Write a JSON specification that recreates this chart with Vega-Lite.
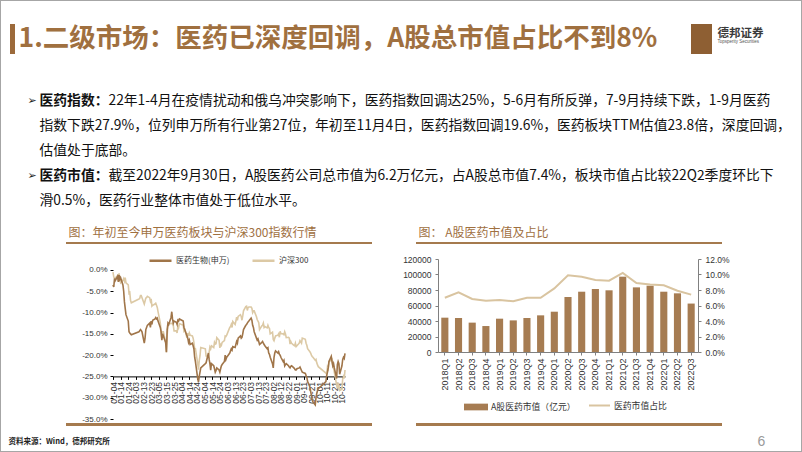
{
"$schema": "https://vega.github.io/schema/vega-lite/v6.json",
"background": "white",
"padding": 0,
"autosize": {"type": "pad"},
"config": {
  "view": {"stroke": null},
  "font": "Noto Sans CJK SC",
  "locale": {"number": {"decimal": ".", "thousands": ",", "grouping": [3], "currency": ["$", ""], "minus": "-"}},
  "axis": {"labelFont": "Liberation Sans", "domainWidth": 1, "tickWidth": 1},
  "legend": {"labelFont": "Noto Sans CJK SC"},
  "title": {"font": "Noto Sans CJK SC"}
},
"datasets": {
  "lines": [
    {"line": 1, "kind": "bullet", "t": "➢"},
    {"line": 4, "kind": "bullet", "t": "➢"},
    {"line": 1, "kind": "label", "t": "医药指数："},
    {"line": 4, "kind": "label", "t": "医药市值："},
    {"line": 1, "kind": "body", "t": "22年1-4月在疫情扰动和俄乌冲突影响下，医药指数回调达25%，5-6月有所反弹，7-9月持续下跌，1-9月医药"},
    {"line": 2, "kind": "cont", "t": "指数下跌27.9%，位列申万所有行业第27位，年初至11月4日，医药指数回调19.6%，医药板块TTM估值23.8倍，深度回调，"},
    {"line": 3, "kind": "cont", "t": "估值处于底部。"},
    {"line": 4, "kind": "body", "t": "截至2022年9月30日，A股医药公司总市值为6.2万亿元，占A股总市值7.4%，板块市值占比较22Q2季度环比下"},
    {"line": 5, "kind": "cont", "t": "滑0.5%，医药行业整体市值处于低位水平。"}
  ],
  "med": [
    {"d":"2022-01-04","v":-0.035},{"d":"2022-01-05","v":-0.040},{"d":"2022-01-06","v":-0.020},{"d":"2022-01-07","v":-0.025},{"d":"2022-01-10","v":-0.015},{"d":"2022-01-11","v":-0.028},{"d":"2022-01-12","v":-0.012},{"d":"2022-01-13","v":-0.022},{"d":"2022-01-14","v":-0.018},{"d":"2022-01-17","v":-0.035},{"d":"2022-01-18","v":-0.050},{"d":"2022-01-19","v":-0.075},{"d":"2022-01-20","v":-0.090},{"d":"2022-01-21","v":-0.105},{"d":"2022-01-24","v":-0.120},{"d":"2022-01-25","v":-0.145},{"d":"2022-01-26","v":-0.148},{"d":"2022-01-27","v":-0.150},{"d":"2022-01-28","v":-0.152},
    {"d":"2022-02-07","v":-0.145},{"d":"2022-02-08","v":-0.143},{"d":"2022-02-09","v":-0.140},{"d":"2022-02-10","v":-0.142},{"d":"2022-02-11","v":-0.145},{"d":"2022-02-14","v":-0.172},{"d":"2022-02-15","v":-0.160},{"d":"2022-02-16","v":-0.140},{"d":"2022-02-17","v":-0.135},{"d":"2022-02-18","v":-0.130},{"d":"2022-02-21","v":-0.125},{"d":"2022-02-22","v":-0.135},{"d":"2022-02-23","v":-0.120},{"d":"2022-02-24","v":-0.128},{"d":"2022-02-25","v":-0.118},{"d":"2022-02-28","v":-0.115},
    {"d":"2022-03-01","v":-0.112},{"d":"2022-03-02","v":-0.115},{"d":"2022-03-03","v":-0.113},{"d":"2022-03-04","v":-0.120},{"d":"2022-03-07","v":-0.135},{"d":"2022-03-08","v":-0.145},{"d":"2022-03-09","v":-0.165},{"d":"2022-03-10","v":-0.150},{"d":"2022-03-11","v":-0.155},{"d":"2022-03-14","v":-0.170},{"d":"2022-03-15","v":-0.193},{"d":"2022-03-16","v":-0.140},{"d":"2022-03-17","v":-0.125},{"d":"2022-03-18","v":-0.128},{"d":"2022-03-21","v":-0.112},{"d":"2022-03-22","v":-0.098},{"d":"2022-03-23","v":-0.115},{"d":"2022-03-24","v":-0.125},{"d":"2022-03-25","v":-0.120},{"d":"2022-03-28","v":-0.123},{"d":"2022-03-29","v":-0.128},{"d":"2022-03-30","v":-0.118},{"d":"2022-03-31","v":-0.120},
    {"d":"2022-04-01","v":-0.115},{"d":"2022-04-06","v":-0.120},{"d":"2022-04-07","v":-0.135},{"d":"2022-04-08","v":-0.140},{"d":"2022-04-11","v":-0.155},{"d":"2022-04-12","v":-0.160},{"d":"2022-04-13","v":-0.170},{"d":"2022-04-14","v":-0.165},{"d":"2022-04-15","v":-0.175},{"d":"2022-04-18","v":-0.172},{"d":"2022-04-19","v":-0.178},{"d":"2022-04-20","v":-0.185},{"d":"2022-04-21","v":-0.205},{"d":"2022-04-22","v":-0.215},{"d":"2022-04-25","v":-0.255},{"d":"2022-04-26","v":-0.263},{"d":"2022-04-27","v":-0.250},{"d":"2022-04-28","v":-0.240},{"d":"2022-04-29","v":-0.230},
    {"d":"2022-05-05","v":-0.220},{"d":"2022-05-06","v":-0.218},{"d":"2022-05-09","v":-0.195},{"d":"2022-05-10","v":-0.210},{"d":"2022-05-11","v":-0.220},{"d":"2022-05-12","v":-0.235},{"d":"2022-05-13","v":-0.220},{"d":"2022-05-16","v":-0.225},{"d":"2022-05-17","v":-0.232},{"d":"2022-05-18","v":-0.240},{"d":"2022-05-19","v":-0.236},{"d":"2022-05-20","v":-0.230},{"d":"2022-05-23","v":-0.235},{"d":"2022-05-24","v":-0.240},{"d":"2022-05-25","v":-0.232},{"d":"2022-05-26","v":-0.225},{"d":"2022-05-27","v":-0.222},{"d":"2022-05-30","v":-0.215},{"d":"2022-05-31","v":-0.200},
    {"d":"2022-06-01","v":-0.210},{"d":"2022-06-02","v":-0.205},{"d":"2022-06-06","v":-0.195},{"d":"2022-06-07","v":-0.190},{"d":"2022-06-08","v":-0.185},{"d":"2022-06-09","v":-0.188},{"d":"2022-06-10","v":-0.180},{"d":"2022-06-13","v":-0.182},{"d":"2022-06-14","v":-0.175},{"d":"2022-06-15","v":-0.168},{"d":"2022-06-16","v":-0.172},{"d":"2022-06-17","v":-0.160},{"d":"2022-06-20","v":-0.155},{"d":"2022-06-21","v":-0.160},{"d":"2022-06-22","v":-0.158},{"d":"2022-06-23","v":-0.150},{"d":"2022-06-24","v":-0.140},{"d":"2022-06-27","v":-0.130},{"d":"2022-06-28","v":-0.128},{"d":"2022-06-29","v":-0.125},{"d":"2022-06-30","v":-0.122},
    {"d":"2022-07-01","v":-0.120},{"d":"2022-07-04","v":-0.113},{"d":"2022-07-05","v":-0.118},{"d":"2022-07-06","v":-0.130},{"d":"2022-07-07","v":-0.135},{"d":"2022-07-08","v":-0.145},{"d":"2022-07-11","v":-0.160},{"d":"2022-07-12","v":-0.165},{"d":"2022-07-13","v":-0.162},{"d":"2022-07-14","v":-0.168},{"d":"2022-07-15","v":-0.175},{"d":"2022-07-18","v":-0.170},{"d":"2022-07-19","v":-0.168},{"d":"2022-07-20","v":-0.172},{"d":"2022-07-21","v":-0.175},{"d":"2022-07-22","v":-0.178},{"d":"2022-07-25","v":-0.185},{"d":"2022-07-26","v":-0.183},{"d":"2022-07-27","v":-0.195},{"d":"2022-07-28","v":-0.198},{"d":"2022-07-29","v":-0.205},
    {"d":"2022-08-01","v":-0.220},{"d":"2022-08-02","v":-0.230},{"d":"2022-08-03","v":-0.205},{"d":"2022-08-04","v":-0.195},{"d":"2022-08-05","v":-0.190},{"d":"2022-08-08","v":-0.195},{"d":"2022-08-09","v":-0.192},{"d":"2022-08-10","v":-0.198},{"d":"2022-08-11","v":-0.200},{"d":"2022-08-12","v":-0.205},{"d":"2022-08-15","v":-0.215},{"d":"2022-08-16","v":-0.212},{"d":"2022-08-17","v":-0.225},{"d":"2022-08-18","v":-0.222},{"d":"2022-08-19","v":-0.220},{"d":"2022-08-22","v":-0.225},{"d":"2022-08-23","v":-0.228},{"d":"2022-08-24","v":-0.230},{"d":"2022-08-25","v":-0.226},{"d":"2022-08-26","v":-0.225},{"d":"2022-08-29","v":-0.230},{"d":"2022-08-30","v":-0.232},{"d":"2022-08-31","v":-0.235},
    {"d":"2022-09-01","v":-0.235},{"d":"2022-09-02","v":-0.232},{"d":"2022-09-05","v":-0.230},{"d":"2022-09-06","v":-0.228},{"d":"2022-09-07","v":-0.232},{"d":"2022-09-08","v":-0.236},{"d":"2022-09-09","v":-0.240},{"d":"2022-09-13","v":-0.243},{"d":"2022-09-14","v":-0.248},{"d":"2022-09-15","v":-0.252},{"d":"2022-09-16","v":-0.262},{"d":"2022-09-19","v":-0.275},{"d":"2022-09-20","v":-0.285},{"d":"2022-09-21","v":-0.295},{"d":"2022-09-22","v":-0.305},{"d":"2022-09-23","v":-0.310},{"d":"2022-09-26","v":-0.317},{"d":"2022-09-27","v":-0.300},{"d":"2022-09-28","v":-0.290},{"d":"2022-09-29","v":-0.283},{"d":"2022-09-30","v":-0.279},
    {"d":"2022-10-10","v":-0.262},{"d":"2022-10-11","v":-0.248},{"d":"2022-10-12","v":-0.240},{"d":"2022-10-13","v":-0.230},{"d":"2022-10-14","v":-0.215},{"d":"2022-10-17","v":-0.203},{"d":"2022-10-18","v":-0.215},{"d":"2022-10-19","v":-0.225},{"d":"2022-10-20","v":-0.220},{"d":"2022-10-21","v":-0.230},{"d":"2022-10-24","v":-0.255},{"d":"2022-10-25","v":-0.222},{"d":"2022-10-26","v":-0.215},{"d":"2022-10-27","v":-0.220},{"d":"2022-10-28","v":-0.245},{"d":"2022-10-31","v":-0.225},
    {"d":"2022-11-01","v":-0.210},{"d":"2022-11-02","v":-0.205},{"d":"2022-11-03","v":-0.208},{"d":"2022-11-04","v":-0.196}
  ],
  "hs": [
    {"d":"2022-01-04","v":-0.005},{"d":"2022-01-05","v":-0.016},{"d":"2022-01-06","v":-0.020},{"d":"2022-01-07","v":-0.019},{"d":"2022-01-10","v":-0.013},{"d":"2022-01-11","v":-0.025},{"d":"2022-01-12","v":-0.008},{"d":"2022-01-13","v":-0.022},{"d":"2022-01-14","v":-0.030},{"d":"2022-01-17","v":-0.024},{"d":"2022-01-18","v":-0.020},{"d":"2022-01-19","v":-0.026},{"d":"2022-01-20","v":-0.018},{"d":"2022-01-21","v":-0.030},{"d":"2022-01-24","v":-0.035},{"d":"2022-01-25","v":-0.055},{"d":"2022-01-26","v":-0.053},{"d":"2022-01-27","v":-0.072},{"d":"2022-01-28","v":-0.077},
    {"d":"2022-02-07","v":-0.068},{"d":"2022-02-08","v":-0.067},{"d":"2022-02-09","v":-0.060},{"d":"2022-02-10","v":-0.060},{"d":"2022-02-11","v":-0.065},{"d":"2022-02-14","v":-0.080},{"d":"2022-02-15","v":-0.073},{"d":"2022-02-16","v":-0.066},{"d":"2022-02-17","v":-0.065},{"d":"2022-02-18","v":-0.062},{"d":"2022-02-21","v":-0.065},{"d":"2022-02-22","v":-0.073},{"d":"2022-02-23","v":-0.068},{"d":"2022-02-24","v":-0.085},{"d":"2022-02-25","v":-0.083},{"d":"2022-02-28","v":-0.080},
    {"d":"2022-03-01","v":-0.078},{"d":"2022-03-02","v":-0.083},{"d":"2022-03-03","v":-0.088},{"d":"2022-03-04","v":-0.098},{"d":"2022-03-07","v":-0.125},{"d":"2022-03-08","v":-0.145},{"d":"2022-03-09","v":-0.160},{"d":"2022-03-10","v":-0.145},{"d":"2022-03-11","v":-0.145},{"d":"2022-03-14","v":-0.170},{"d":"2022-03-15","v":-0.193},{"d":"2022-03-16","v":-0.152},{"d":"2022-03-17","v":-0.130},{"d":"2022-03-18","v":-0.125},{"d":"2022-03-21","v":-0.126},{"d":"2022-03-22","v":-0.125},{"d":"2022-03-23","v":-0.125},{"d":"2022-03-24","v":-0.130},{"d":"2022-03-25","v":-0.143},{"d":"2022-03-28","v":-0.143},{"d":"2022-03-29","v":-0.148},{"d":"2022-03-30","v":-0.130},{"d":"2022-03-31","v":-0.135},
    {"d":"2022-04-01","v":-0.126},{"d":"2022-04-06","v":-0.130},{"d":"2022-04-07","v":-0.143},{"d":"2022-04-08","v":-0.140},{"d":"2022-04-11","v":-0.160},{"d":"2022-04-12","v":-0.148},{"d":"2022-04-13","v":-0.155},{"d":"2022-04-14","v":-0.148},{"d":"2022-04-15","v":-0.153},{"d":"2022-04-18","v":-0.155},{"d":"2022-04-19","v":-0.160},{"d":"2022-04-20","v":-0.170},{"d":"2022-04-21","v":-0.185},{"d":"2022-04-22","v":-0.185},{"d":"2022-04-25","v":-0.220},{"d":"2022-04-26","v":-0.234},{"d":"2022-04-27","v":-0.213},{"d":"2022-04-28","v":-0.202},{"d":"2022-04-29","v":-0.182},
    {"d":"2022-05-05","v":-0.185},{"d":"2022-05-06","v":-0.202},{"d":"2022-05-09","v":-0.202},{"d":"2022-05-10","v":-0.193},{"d":"2022-05-11","v":-0.181},{"d":"2022-05-12","v":-0.185},{"d":"2022-05-13","v":-0.178},{"d":"2022-05-16","v":-0.182},{"d":"2022-05-17","v":-0.170},{"d":"2022-05-18","v":-0.174},{"d":"2022-05-19","v":-0.173},{"d":"2022-05-20","v":-0.159},{"d":"2022-05-23","v":-0.165},{"d":"2022-05-24","v":-0.183},{"d":"2022-05-25","v":-0.175},{"d":"2022-05-26","v":-0.177},{"d":"2022-05-27","v":-0.170},{"d":"2022-05-30","v":-0.166},{"d":"2022-05-31","v":-0.155},
    {"d":"2022-06-01","v":-0.156},{"d":"2022-06-02","v":-0.153},{"d":"2022-06-06","v":-0.135},{"d":"2022-06-07","v":-0.133},{"d":"2022-06-08","v":-0.128},{"d":"2022-06-09","v":-0.135},{"d":"2022-06-10","v":-0.121},{"d":"2022-06-13","v":-0.128},{"d":"2022-06-14","v":-0.120},{"d":"2022-06-15","v":-0.111},{"d":"2022-06-16","v":-0.118},{"d":"2022-06-17","v":-0.109},{"d":"2022-06-20","v":-0.105},{"d":"2022-06-21","v":-0.109},{"d":"2022-06-22","v":-0.118},{"d":"2022-06-23","v":-0.108},{"d":"2022-06-24","v":-0.096},{"d":"2022-06-27","v":-0.086},{"d":"2022-06-28","v":-0.085},{"d":"2022-06-29","v":-0.095},{"d":"2022-06-30","v":-0.088},
    {"d":"2022-07-01","v":-0.087},{"d":"2022-07-04","v":-0.087},{"d":"2022-07-05","v":-0.090},{"d":"2022-07-06","v":-0.100},{"d":"2022-07-07","v":-0.096},{"d":"2022-07-08","v":-0.096},{"d":"2022-07-11","v":-0.110},{"d":"2022-07-12","v":-0.117},{"d":"2022-07-13","v":-0.120},{"d":"2022-07-14","v":-0.124},{"d":"2022-07-15","v":-0.140},{"d":"2022-07-18","v":-0.131},{"d":"2022-07-19","v":-0.130},{"d":"2022-07-20","v":-0.125},{"d":"2022-07-21","v":-0.135},{"d":"2022-07-22","v":-0.133},{"d":"2022-07-25","v":-0.136},{"d":"2022-07-26","v":-0.130},{"d":"2022-07-27","v":-0.135},{"d":"2022-07-28","v":-0.137},{"d":"2022-07-29","v":-0.150},
    {"d":"2022-08-01","v":-0.146},{"d":"2022-08-02","v":-0.163},{"d":"2022-08-03","v":-0.166},{"d":"2022-08-04","v":-0.160},{"d":"2022-08-05","v":-0.155},{"d":"2022-08-08","v":-0.153},{"d":"2022-08-09","v":-0.150},{"d":"2022-08-10","v":-0.158},{"d":"2022-08-11","v":-0.144},{"d":"2022-08-12","v":-0.149},{"d":"2022-08-15","v":-0.150},{"d":"2022-08-16","v":-0.152},{"d":"2022-08-17","v":-0.145},{"d":"2022-08-18","v":-0.150},{"d":"2022-08-19","v":-0.159},{"d":"2022-08-22","v":-0.158},{"d":"2022-08-23","v":-0.160},{"d":"2022-08-24","v":-0.174},{"d":"2022-08-25","v":-0.168},{"d":"2022-08-26","v":-0.172},{"d":"2022-08-29","v":-0.177},{"d":"2022-08-30","v":-0.178},{"d":"2022-08-31","v":-0.172},
    {"d":"2022-09-01","v":-0.180},{"d":"2022-09-02","v":-0.178},{"d":"2022-09-05","v":-0.172},{"d":"2022-09-06","v":-0.166},{"d":"2022-09-07","v":-0.169},{"d":"2022-09-08","v":-0.172},{"d":"2022-09-09","v":-0.160},{"d":"2022-09-13","v":-0.163},{"d":"2022-09-14","v":-0.172},{"d":"2022-09-15","v":-0.177},{"d":"2022-09-16","v":-0.185},{"d":"2022-09-19","v":-0.192},{"d":"2022-09-20","v":-0.195},{"d":"2022-09-21","v":-0.200},{"d":"2022-09-22","v":-0.203},{"d":"2022-09-23","v":-0.205},{"d":"2022-09-26","v":-0.212},{"d":"2022-09-27","v":-0.210},{"d":"2022-09-28","v":-0.218},{"d":"2022-09-29","v":-0.223},{"d":"2022-09-30","v":-0.227},
    {"d":"2022-10-10","v":-0.242},{"d":"2022-10-11","v":-0.245},{"d":"2022-10-12","v":-0.228},{"d":"2022-10-13","v":-0.232},{"d":"2022-10-14","v":-0.215},{"d":"2022-10-17","v":-0.212},{"d":"2022-10-18","v":-0.210},{"d":"2022-10-19","v":-0.225},{"d":"2022-10-20","v":-0.230},{"d":"2022-10-21","v":-0.240},{"d":"2022-10-24","v":-0.270},{"d":"2022-10-25","v":-0.278},{"d":"2022-10-26","v":-0.265},{"d":"2022-10-27","v":-0.272},{"d":"2022-10-28","v":-0.283},{"d":"2022-10-31","v":-0.280},
    {"d":"2022-11-01","v":-0.255},{"d":"2022-11-02","v":-0.250},{"d":"2022-11-03","v":-0.255},{"d":"2022-11-04","v":-0.235}
  ],
  "mv": [
    {"q":"2018Q1","v":44300,"r":0.070},{"q":"2018Q2","v":43900,"r":0.077},{"q":"2018Q3","v":37900,"r":0.0685},{"q":"2018Q4","v":33500,"r":0.066},
    {"q":"2019Q1","v":43000,"r":0.067},{"q":"2019Q2","v":40800,"r":0.0655},{"q":"2019Q3","v":43900,"r":0.070},{"q":"2019Q4","v":47300,"r":0.070},
    {"q":"2020Q1","v":52000,"r":0.082},{"q":"2020Q2","v":71000,"r":0.099},{"q":"2020Q3","v":77800,"r":0.097},{"q":"2020Q4","v":81300,"r":0.093},
    {"q":"2021Q1","v":79600,"r":0.092},{"q":"2021Q2","v":97200,"r":0.102},{"q":"2021Q3","v":83400,"r":0.089},{"q":"2021Q4","v":85600,"r":0.087},
    {"q":"2022Q1","v":77800,"r":0.086},{"q":"2022Q2","v":75700,"r":0.079},{"q":"2022Q3","v":62500,"r":0.074}
  ]
},
"spacing": 0,
"bounds": "full",
"hconcat": [
  {"width": 1, "height": 452, "data": {"values": [{}]}, "mark": {"type": "rect", "color": "#A6A6A6"}},
  {
    "spacing": 0,
    "bounds": "full",
    "resolve": {"scale": {"color": "independent", "fill": "independent", "stroke": "independent"}, "legend": {"color": "independent", "fill": "independent", "stroke": "independent"}},
    "vconcat": [
      {"width": 800, "height": 1, "data": {"values": [{}]}, "mark": {"type": "rect", "color": "#A6A6A6"}},
      {"width": 1, "height": 23, "data": {"values": [{}]}, "mark": {"type": "rect", "opacity": 0}},
      {
        "spacing": 0,
        "bounds": "flush",
        "hconcat": [
          {"width": 9, "height": 30, "data": {"values": [{}]}, "mark": {"type": "rect", "opacity": 0}},
          {"width": 5, "height": 30, "data": {"values": [{}]}, "mark": {"type": "rect", "color": "#9C6A3B"}},
          {"width": 3, "height": 30, "data": {"values": [{}]}, "mark": {"type": "rect", "opacity": 0}},
          {"width": 1, "height": 30, "data": {"values": [{"t": "1.二级市场：医药已深度回调，A股总市值占比不到8%"}]},
           "mark": {"type": "text", "align": "left", "baseline": "middle", "fontSize": 26.5, "fontWeight": "bold", "color": "#A0703F", "font": "Noto Sans CJK SC"},
           "encoding": {"text": {"field": "t"}}},
          {"width": 672, "height": 30, "data": {"values": [{}]}, "mark": {"type": "rect", "opacity": 0}},
          {"width": 21, "height": 30, "data": {"values": [{}]}, "mark": {"type": "rect", "color": "#8E5F33"}},
          {"width": 5, "height": 30, "data": {"values": [{}]}, "mark": {"type": "rect", "opacity": 0}},
          {"width": 1, "height": 30,
           "layer": [
             {"data": {"values": [{"t": "德邦证券"}]}, "mark": {"type": "text", "align": "left", "baseline": "bottom", "fontSize": 11.5, "fontWeight": "bold", "color": "#3A3A3A"}, "encoding": {"text": {"field": "t"}}},
             {"data": {"values": [{"t": "Topsperity Securities"}]}, "mark": {"type": "text", "align": "left", "baseline": "top", "fontSize": 4.5, "color": "#555555", "font": "Liberation Sans"}, "encoding": {"text": {"field": "t"}}}
           ]}
        ]
      },
      {"width": 1, "height": 33.5, "data": {"values": [{}]}, "mark": {"type": "rect", "opacity": 0}},
      {
        "spacing": 0,
        "bounds": "flush",
        "hconcat": [
          {"width": 26, "height": 125, "data": {"values": [{}]}, "mark": {"type": "rect", "opacity": 0}},
          {"width": 1, "height": 125, "data": {"name": "lines"},
           "transform": [{"filter": "datum.kind === 'bullet'"}],
           "mark": {"type": "text", "align": "left", "baseline": "middle", "font": "DejaVu Sans", "fontSize": 11, "color": "#222222"},
           "encoding": {"y": {"field": "line", "type": "ordinal", "scale": {"domain": [1, 2, 3, 4, 5]}, "axis": null}, "text": {"field": "t"}}},
          {"width": 11, "height": 125, "data": {"values": [{}]}, "mark": {"type": "rect", "opacity": 0}},
          {"width": 1, "height": 125, "data": {"name": "lines"},
           "encoding": {"y": {"field": "line", "type": "ordinal", "scale": {"domain": [1, 2, 3, 4, 5]}, "axis": null}, "text": {"field": "t"}},
           "layer": [
             {"transform": [{"filter": "datum.kind === 'label'"}], "mark": {"type": "text", "align": "left", "baseline": "middle", "fontSize": 13.8, "fontWeight": "bold", "color": "#111111"}},
             {"transform": [{"filter": "datum.kind === 'cont'"}], "mark": {"type": "text", "align": "left", "baseline": "middle", "fontSize": 13.8, "color": "#111111"}}
           ]},
          {"width": 68, "height": 125, "data": {"values": [{}]}, "mark": {"type": "rect", "opacity": 0}},
          {"width": 1, "height": 125, "data": {"name": "lines"},
           "transform": [{"filter": "datum.kind === 'body'"}],
           "mark": {"type": "text", "align": "left", "baseline": "middle", "fontSize": 13.8, "color": "#111111"},
           "encoding": {"y": {"field": "line", "type": "ordinal", "scale": {"domain": [1, 2, 3, 4, 5]}, "axis": null}, "text": {"field": "t"}}}
        ]
      },
      {"width": 1, "height": 12.5, "data": {"values": [{}]}, "mark": {"type": "rect", "opacity": 0}},
      {
        "spacing": 0,
        "bounds": "flush",
        "hconcat": [
          {"width": 67, "height": 14, "data": {"values": [{}]}, "mark": {"type": "rect", "opacity": 0}},
          {"width": 1, "height": 14, "data": {"values": [{"t": "图：年初至今申万医药板块与沪深300指数行情"}]},
           "mark": {"type": "text", "align": "left", "baseline": "middle", "fontSize": 12, "color": "#A0703F"},
           "encoding": {"text": {"field": "t"}}},
          {"width": 349, "height": 14, "data": {"values": [{}]}, "mark": {"type": "rect", "opacity": 0}},
          {"width": 1, "height": 14, "data": {"values": [{"t": "图：  A股医药市值及占比"}]},
           "mark": {"type": "text", "align": "left", "baseline": "middle", "fontSize": 12, "color": "#A0703F"},
           "encoding": {"text": {"field": "t"}}}
        ]
      },
      {"width": 1, "height": 2, "data": {"values": [{}]}, "mark": {"type": "rect", "opacity": 0}},
      {
        "spacing": 0,
        "bounds": "flush",
        "hconcat": [
          {"width": 65, "height": 2, "data": {"values": [{}]}, "mark": {"type": "rect", "opacity": 0}},
          {"width": 306, "height": 2, "data": {"values": [{}]}, "mark": {"type": "rect", "color": "#A57A4E"}},
          {"width": 44, "height": 2, "data": {"values": [{}]}, "mark": {"type": "rect", "opacity": 0}},
          {"width": 306, "height": 2, "data": {"values": [{}]}, "mark": {"type": "rect", "color": "#A57A4E"}}
        ]
      },
      {"width": 1, "height": 3.5, "data": {"values": [{}]}, "mark": {"type": "rect", "opacity": 0}},
      {
        "spacing": 0,
        "bounds": "flush",
        "resolve": {"scale": {"color": "independent", "fill": "independent", "stroke": "independent"}, "legend": {"color": "independent", "fill": "independent", "stroke": "independent"}},
        "hconcat": [
          {"width": 112, "height": 160, "data": {"values": [{}]}, "mark": {"type": "rect", "opacity": 0}},
          {
            "width": 232, "height": 160,
            "encoding": {
              "x": {"field": "d", "type": "temporal",
                    "scale": {"type": "utc", "domain": [{"year": 2022, "month": 1, "date": 4, "utc": true}, {"year": 2022, "month": 11, "date": 4, "utc": true}]},
                    "axis": {"title": null, "labelExpr": "utcFormat(datum.value, '%m-%d')", "labelAngle": -90, "labelFontSize": 8.5, "labelColor": "#333333",
                             "offset": -42.6, "domainColor": "#000000", "tickColor": "#000000", "tickSize": 3, "grid": false, "labelPadding": 2,
                             "labelOverlap": false, "labelBound": false, "labelFlush": false,
                             "values": [
                               {"year":2022,"month":1,"date":4,"utc":true},{"year":2022,"month":1,"date":14,"utc":true},{"year":2022,"month":1,"date":24,"utc":true},
                               {"year":2022,"month":2,"date":3,"utc":true},{"year":2022,"month":2,"date":13,"utc":true},{"year":2022,"month":2,"date":23,"utc":true},
                               {"year":2022,"month":3,"date":5,"utc":true},{"year":2022,"month":3,"date":15,"utc":true},{"year":2022,"month":3,"date":25,"utc":true},
                               {"year":2022,"month":4,"date":4,"utc":true},{"year":2022,"month":4,"date":14,"utc":true},{"year":2022,"month":4,"date":24,"utc":true},
                               {"year":2022,"month":5,"date":4,"utc":true},{"year":2022,"month":5,"date":14,"utc":true},{"year":2022,"month":5,"date":24,"utc":true},
                               {"year":2022,"month":6,"date":3,"utc":true},{"year":2022,"month":6,"date":13,"utc":true},{"year":2022,"month":6,"date":23,"utc":true},
                               {"year":2022,"month":7,"date":3,"utc":true},{"year":2022,"month":7,"date":13,"utc":true},{"year":2022,"month":7,"date":23,"utc":true},
                               {"year":2022,"month":8,"date":2,"utc":true},{"year":2022,"month":8,"date":12,"utc":true},{"year":2022,"month":8,"date":22,"utc":true},
                               {"year":2022,"month":9,"date":1,"utc":true},{"year":2022,"month":9,"date":11,"utc":true},{"year":2022,"month":9,"date":21,"utc":true},
                               {"year":2022,"month":10,"date":1,"utc":true},{"year":2022,"month":10,"date":11,"utc":true},{"year":2022,"month":10,"date":21,"utc":true},
                               {"year":2022,"month":10,"date":31,"utc":true}
                             ]}},
              "y": {"field": "v", "type": "quantitative", "scale": {"domain": [-0.35, 0.0258], "nice": false, "zero": false},
                    "axis": {"title": null, "values": [0, -0.05, -0.1, -0.15, -0.2, -0.25, -0.3, -0.35], "format": ".1%", "labelFontSize": 8, "labelColor": "#333333",
                             "domain": false, "tickColor": "#000000", "tickSize": 3, "grid": false, "labelPadding": 3}}
            },
            "layer": [
              {"data": {"values": [{}]}, "mark": {"type": "rule", "color": "#000000", "strokeWidth": 1},
               "encoding": {"x": {"datum": {"year": 2022, "month": 1, "date": 4, "utc": true}, "type": "temporal"}, "y": {"datum": 0}, "y2": {"datum": -0.35}}},
              {"data": {"name": "hs"}, "mark": {"type": "line", "strokeWidth": 1.6},
               "encoding": {"color": {"datum": "沪深300", "type": "nominal",
                 "scale": {"domain": ["医药生物(申万)", "沪深300"], "range": ["#A07549", "#DCC9A5"]},
                 "legend": {"title": null, "orient": "none", "legendX": 35, "legendY": -11, "direction": "horizontal", "symbolType": "stroke", "symbolSize": 484, "symbolStrokeWidth": 2.5, "labelFontSize": 8, "labelColor": "#333333", "columnPadding": 17, "labelOffset": 3}}}},
              {"data": {"name": "med"}, "mark": {"type": "line", "strokeWidth": 1.6},
               "encoding": {"color": {"datum": "医药生物(申万)", "type": "nominal"}}}
            ]
          },
          {"width": 93, "height": 160, "data": {"values": [{}]}, "mark": {"type": "rect", "opacity": 0}},
          {
            "width": 260, "height": 93,
            "data": {"name": "mv"},
            "encoding": {
              "x": {"field": "q", "type": "ordinal", "sort": null, "scale": {"paddingInner": 0.48, "paddingOuter": 0.24},
                    "axis": {"title": null, "labelAngle": -90, "labelFontSize": 9, "labelColor": "#333333", "domainColor": "#808080", "tickColor": "#808080", "tickSize": 3, "labelPadding": 3}}
            },
            "layer": [
              {"mark": {"type": "bar"},
               "encoding": {
                 "y": {"field": "v", "type": "quantitative", "scale": {"domain": [0, 120000], "nice": false},
                       "axis": {"title": null, "values": [0, 20000, 40000, 60000, 80000, 100000, 120000], "format": "d", "labelFontSize": 8.5, "labelColor": "#333333", "domainColor": "#808080", "tickColor": "#808080", "tickSize": 3, "grid": false, "labelPadding": 4}},
                 "fill": {"datum": "A股医药市值（亿元）", "type": "nominal", "scale": {"range": ["#A67C52"]},
                          "legend": {"title": null, "orient": "none", "legendX": 25, "legendY": 135, "symbolType": "M-1,-0.28H1V0.28H-1Z", "symbolSize": 576, "labelFontSize": 8.8, "labelColor": "#333333", "labelOffset": 2}}
               }},
              {"mark": {"type": "line", "strokeWidth": 2},
               "encoding": {
                 "y": {"field": "r", "type": "quantitative", "scale": {"domain": [0, 0.12], "nice": false},
                       "axis": {"orient": "right", "title": null, "values": [0, 0.02, 0.04, 0.06, 0.08, 0.1, 0.12], "format": ".1%", "labelFontSize": 8.5, "labelColor": "#333333", "domainColor": "#808080", "tickColor": "#808080", "tickSize": 3, "grid": false, "labelPadding": 4}},
                 "stroke": {"datum": "医药市值占比", "type": "nominal", "scale": {"range": ["#D9C4A0"]},
                            "legend": {"title": null, "orient": "none", "legendX": 150, "legendY": 135, "symbolType": "stroke", "symbolSize": 441, "symbolStrokeWidth": 2, "labelFontSize": 8.8, "labelColor": "#333333", "labelOffset": 3}}
               }}
            ],
            "resolve": {"scale": {"y": "independent"}}
          }
        ]
      },
      {
        "spacing": 0,
        "bounds": "flush",
        "hconcat": [
          {"width": 65, "height": 3, "data": {"values": [{}]}, "mark": {"type": "rect", "opacity": 0}},
          {"width": 306, "height": 3, "data": {"values": [{}]}, "mark": {"type": "rect", "color": "#A57A4E"}},
          {"width": 44, "height": 3, "data": {"values": [{}]}, "mark": {"type": "rect", "opacity": 0}},
          {"width": 306, "height": 3, "data": {"values": [{}]}, "mark": {"type": "rect", "color": "#A57A4E"}}
        ]
      },
      {"width": 1, "height": 7, "data": {"values": [{}]}, "mark": {"type": "rect", "opacity": 0}},
      {
        "spacing": 0,
        "bounds": "flush",
        "hconcat": [
          {"width": 7, "height": 18, "data": {"values": [{}]}, "mark": {"type": "rect", "opacity": 0}},
          {"width": 1, "height": 18, "data": {"values": [{"t": "资料来源：Wind，德邦研究所"}]},
           "mark": {"type": "text", "align": "left", "baseline": "middle", "fontSize": 7.5, "fontWeight": "bold", "color": "#222222"},
           "encoding": {"text": {"field": "t"}}},
          {"width": 748, "height": 18, "data": {"values": [{}]}, "mark": {"type": "rect", "opacity": 0}},
          {"width": 1, "height": 18, "data": {"values": [{"t": "6"}]},
           "mark": {"type": "text", "align": "left", "baseline": "middle", "fontSize": 14, "color": "#9A9A9A", "font": "Liberation Sans"},
           "encoding": {"text": {"field": "t"}}}
        ]
      },
      {"width": 800, "height": 1, "data": {"values": [{}]}, "mark": {"type": "rect", "color": "#A6A6A6"}}
    ]
  },
  {"width": 1, "height": 452, "data": {"values": [{}]}, "mark": {"type": "rect", "color": "#A6A6A6"}}
]
}
